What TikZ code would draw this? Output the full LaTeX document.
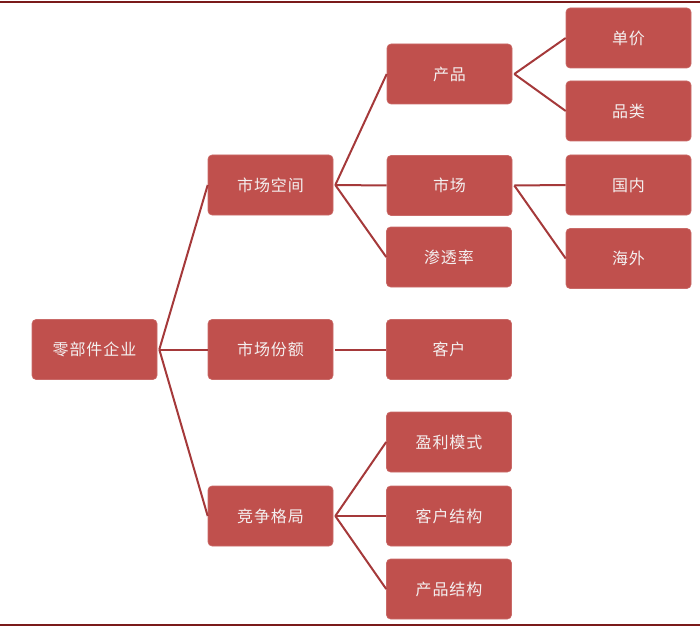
\documentclass[tikz,border=0pt]{standalone}
\usepackage{fontspec}
\newfontfamily\cjk[LetterSpace=6]{Noto Sans CJK SC}
\definecolor{boxred}{HTML}{C0504D}
\definecolor{linered}{HTML}{A5393A}
\definecolor{rulered}{HTML}{7A1A1A}
\definecolor{txt}{HTML}{F4F0F0}
\begin{document}
\begin{tikzpicture}[x=1pt,y=-1pt,
  box/.style={draw=boxred!85!white,fill=boxred,rounded corners=4pt,minimum width=125pt,minimum height=60pt,
    text=txt,font=\cjk\fontsize{16pt}{19pt}\selectfont,inner sep=0pt,line width=0.6pt},
  conn/.style={draw=linered,line width=2pt}]
\useasboundingbox (0,0) rectangle (700,628);
\draw[rulered,line width=1.6pt] (0,2) -- (700,2);
\draw[rulered,line width=1.6pt] (0,625) -- (700,625);
\node[box] (root) at (94.5,349.5) {零部件企业};
\node[box] (sckj) at (270.5,185) {市场空间};
\node[box] (scfe) at (270.5,349.5) {市场份额};
\node[box] (jzgj) at (270.5,516) {竞争格局};
\node[box] (cp) at (449.5,74) {产品};
\node[box] (sc) at (449.5,185.5) {市场};
\node[box] (stl) at (449,257) {渗透率};
\node[box] (kh) at (449,349.5) {客户};
\node[box] (ylms) at (449,442) {盈利模式};
\node[box] (khjg) at (449,516) {客户结构};
\node[box] (cpjg) at (449,589) {产品结构};
\node[box] (dj) at (628.5,38) {单价};
\node[box] (pl) at (628.5,111) {品类};
\node[box] (gn) at (628.5,185) {国内};
\node[box] (hw) at (628.5,258.5) {海外};
\foreach \p/\c in {root/sckj,root/scfe,root/jzgj,sckj/cp,sckj/sc,sckj/stl,scfe/kh,jzgj/ylms,jzgj/khjg,jzgj/cpjg,cp/dj,cp/pl,sc/gn,sc/hw}
  \draw[conn] ([xshift=2pt]\p.east) -- (\c.west);
\end{tikzpicture}
\end{document}
